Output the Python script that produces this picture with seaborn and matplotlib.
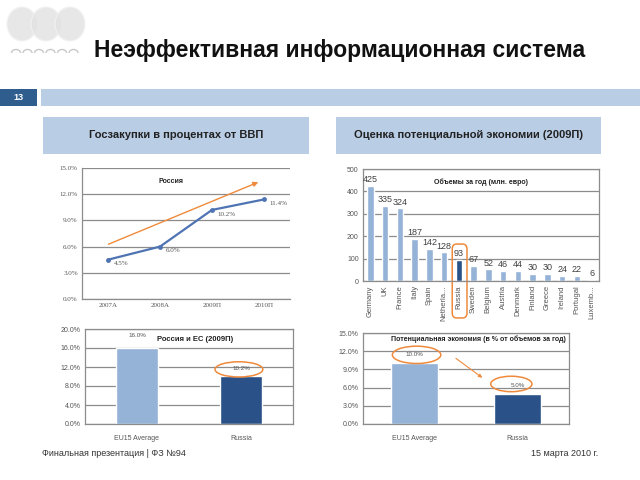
import numpy as np
import pandas as pd
import seaborn as sns
import matplotlib.pyplot as plt
from matplotlib.patches import Rectangle, Circle, Arc, Ellipse, FancyBboxPatch
import matplotlib.transforms as mtransforms

sns.set_theme(style='white')
plt.rcParams['font.family'] = ['Liberation Sans', 'DejaVu Sans']

# data
years = ['2007А', '2008А', '2009П', '2010П']
gdp_share = [4.5, 6.0, 10.2, 11.4]

countries = ['Germany', 'UK', 'France', 'Italy', 'Spain', 'Netherla...', 'Russia',
             'Sweden', 'Belgium', 'Austria', 'Denmark', 'Finland', 'Greece',
             'Ireland', 'Portugal', 'Luxemb...']
volumes = [425, 335, 324, 187, 142, 128, 93, 67, 52, 46, 44, 30, 30, 24, 22, 6]

groups = ['EU15 Average', 'Russia']
share_eu_ru = [16.0, 10.2]
savings = [10.0, 5.0]

LIGHT = '#95b3d7'
DARK = '#2a5288'
BAND = '#b9cde5'
ORANGE = '#ef8a3c'
GRID = '#8c8c8c'
TXT = '#555555'

fig = plt.figure(figsize=(6.4, 4.8), dpi=100)
W, H = 640, 480


def box(x0, y0, x1, y1):
    # pixel box (top-left origin) -> figure fraction rect
    return [x0 / W, 1 - y1 / H, (x1 - x0) / W, (y1 - y0) / H]


def fx(x):
    return x / W


def fy(y):
    return 1 - y / H


# logo
for cx in (22, 46, 70):
    fig.patches.append(Ellipse((fx(cx), fy(24)), 30 / W, 34 / H, transform=fig.transFigure,
                               facecolor='#e2e2e2', edgecolor='#f2f2f2', alpha=0.8))
for i in range(6):
    fig.patches.append(Arc((fx(16 + i * 11.5), fy(53)), 9 / W, 7 / H, theta1=0, theta2=180,
                           transform=fig.transFigure, color='#c8c8c8', lw=1))

fig.text(fx(94), fy(51), 'Неэффективная информационная система', fontsize=16.5,
         fontweight='bold', va='center', ha='left', color='#111111')

# slide number band
fig.patches.append(Rectangle((0, fy(106)), 37 / W, 17 / H, transform=fig.transFigure,
                             facecolor='#2f5d8e', edgecolor='none'))
fig.text(fx(18), fy(97.5), '13', color='white', fontsize=6.5, fontweight='bold',
         ha='center', va='center')
fig.patches.append(Rectangle((fx(41), fy(106)), (W - 41) / W, 17 / H,
                             transform=fig.transFigure, facecolor=BAND, edgecolor='none'))

# section headers
for x0, x1, label in [(43, 309, 'Госзакупки в процентах от ВВП'),
                      (336, 601, 'Оценка потенциальной экономии (2009П)')]:
    fig.patches.append(Rectangle((fx(x0), fy(154)), (x1 - x0) / W, 37 / H,
                                 transform=fig.transFigure, facecolor=BAND, edgecolor='none'))
    fig.text(fx((x0 + x1) / 2), fy(135.5), label, fontsize=8, fontweight='bold',
             ha='center', va='center', color='#222222')


def style_axes(ax, frame=True):
    ax.set_facecolor('white')
    ax.yaxis.grid(True, color=GRID, lw=0.9)
    ax.xaxis.grid(False)
    ax.set_axisbelow(True)
    for s in ax.spines.values():
        s.set_color(GRID)
        s.set_linewidth(0.9)
        s.set_visible(frame)
    ax.spines['left'].set_visible(True)
    ax.spines['bottom'].set_visible(True)
    ax.tick_params(axis='both', labelsize=5, colors=TXT, length=0, pad=3)
    ax.set_xlabel('')
    ax.set_ylabel('')


# top-left: line chart
ax1 = fig.add_axes(box(82, 168, 290, 299))
df1 = pd.DataFrame({'year': years, 'share': gdp_share})
sns.lineplot(data=df1, x='year', y='share', ax=ax1, color='#4f74b3', lw=1.6,
             marker='o', markersize=3.5, markeredgewidth=0)
style_axes(ax1, frame=False)
ax1.set_xlim(-0.5, 3.5)
ax1.set_ylim(0, 15)
ax1.set_yticks(np.arange(0, 15.1, 3))
ax1.set_yticklabels([f'{v:.1f}%' for v in np.arange(0, 15.1, 3)], family='Liberation Serif')
for lab in ax1.get_xticklabels():
    lab.set_family('Liberation Serif')
for i, v in enumerate(gdp_share):
    ax1.annotate(f'{v:.1f}%', (i, v), xytext=(4, -3), textcoords='offset points',
                 fontsize=5, color=TXT, family='Liberation Serif', va='center')
ax1.text(0.43, 0.90, 'Россия', transform=ax1.transAxes, fontsize=5, fontweight='bold',
         ha='center', va='center', color='#222222')
ax1.annotate('', xy=(0.86, 0.90), xytext=(0.115, 0.41), xycoords='axes fraction',
             arrowprops=dict(arrowstyle='-|>', color=ORANGE, lw=1, mutation_scale=7))

# top-right: volumes bar chart
ax2 = fig.add_axes(box(363, 169, 599, 281))
pal2 = {c: (DARK if c == 'Russia' else LIGHT) for c in countries}
sns.barplot(x=countries, y=volumes, hue=countries, palette=pal2, legend=False,
            width=0.45, saturation=1, ax=ax2)
style_axes(ax2)
ax2.set_ylim(0, 500)
ax2.set_xlim(-0.5, len(countries) - 0.5)
ax2.set_yticks(range(0, 501, 100))
ax2.tick_params(axis='x', rotation=90, labelsize=5.5, pad=3)
for i, v in enumerate(volumes):
    ax2.text(i, v + 8, str(v), ha='center', va='bottom', fontsize=6.5, color='#404040')
ax2.text(0.50, 0.88, 'Объемы за год (млн. евро)', transform=ax2.transAxes, fontsize=5,
         fontweight='bold', ha='center', va='center', color='#222222')
tr = mtransforms.blended_transform_factory(ax2.transData, ax2.transAxes)
ax2.add_patch(FancyBboxPatch((5.55, -0.33), 1.0, 0.66, boxstyle='round,pad=0,rounding_size=0.3',
                             transform=tr, facecolor='none', edgecolor=ORANGE, lw=1.1,
                             clip_on=False, mutation_aspect=0.15))

# bottom-left: Russia vs EU share
ax3 = fig.add_axes(box(85, 329, 293, 424))
sns.barplot(x=groups, y=share_eu_ru, hue=groups, palette=[LIGHT, DARK], legend=False,
            width=0.4, saturation=1, ax=ax3)
style_axes(ax3)
ax3.set_ylim(0, 20)
ax3.set_yticks(np.arange(0, 20.1, 4))
ax3.set_yticklabels([f'{v:.1f}%' for v in np.arange(0, 20.1, 4)])
ax3.tick_params(axis='x', pad=8)
ax3.text(0, 18.6, f'{share_eu_ru[0]:.1f}%', ha='center', va='center', fontsize=4.5, color=TXT)
ax3.text(1, share_eu_ru[1] + 1.5, f'{share_eu_ru[1]:.1f}%', ha='center', va='center',
         fontsize=4.5, color=TXT)
ax3.text(0.53, 0.89, 'Россия и ЕС (2009П)', transform=ax3.transAxes, fontsize=5.5,
         fontweight='bold', ha='center', va='center', color='#222222')
ax3.add_patch(Ellipse((0.74, 0.575), 0.23, 0.16, transform=ax3.transAxes, facecolor='none',
                      edgecolor=ORANGE, lw=1.1, clip_on=False))

# bottom-right: potential savings
ax4 = fig.add_axes(box(363, 333, 569, 424))
sns.barplot(x=groups, y=savings, hue=groups, palette=[LIGHT, DARK], legend=False,
            width=0.45, saturation=1, ax=ax4)
style_axes(ax4)
ax4.set_ylim(0, 15)
ax4.set_yticks(np.arange(0, 15.1, 3))
ax4.set_yticklabels([f'{v:.1f}%' for v in np.arange(0, 15.1, 3)])
ax4.tick_params(axis='x', pad=8)
for i, v in enumerate(savings):
    ax4.text(i, v + 1.4, f'{v:.1f}%', ha='center', va='center', fontsize=4.5, color=TXT)
ax4.text(0.56, 0.93, 'Потенциальная экономия (в % от объемов за год)', transform=ax4.transAxes,
         fontsize=5, fontweight='bold', ha='center', va='center', color='#222222')
ax4.add_patch(Ellipse((0.26, 0.76), 0.235, 0.19, transform=ax4.transAxes, facecolor='none',
                      edgecolor=ORANGE, lw=1.1, clip_on=False))
ax4.add_patch(Ellipse((0.72, 0.44), 0.2, 0.17, transform=ax4.transAxes, facecolor='none',
                      edgecolor=ORANGE, lw=1.1, clip_on=False))
ax4.annotate('', xy=(0.59, 0.49), xytext=(0.44, 0.74), xycoords='axes fraction',
             arrowprops=dict(arrowstyle='-|>', color=ORANGE, lw=0.8, mutation_scale=5))

# footer
fig.text(fx(42), fy(453), 'Финальная презентация | ФЗ №94', fontsize=6.5, color='#333333',
         va='center')
fig.text(fx(598), fy(453), '15 марта 2010 г.', fontsize=6.5, color='#333333', va='center',
         ha='right')

fig.savefig('out.png', dpi=100, facecolor='white')
